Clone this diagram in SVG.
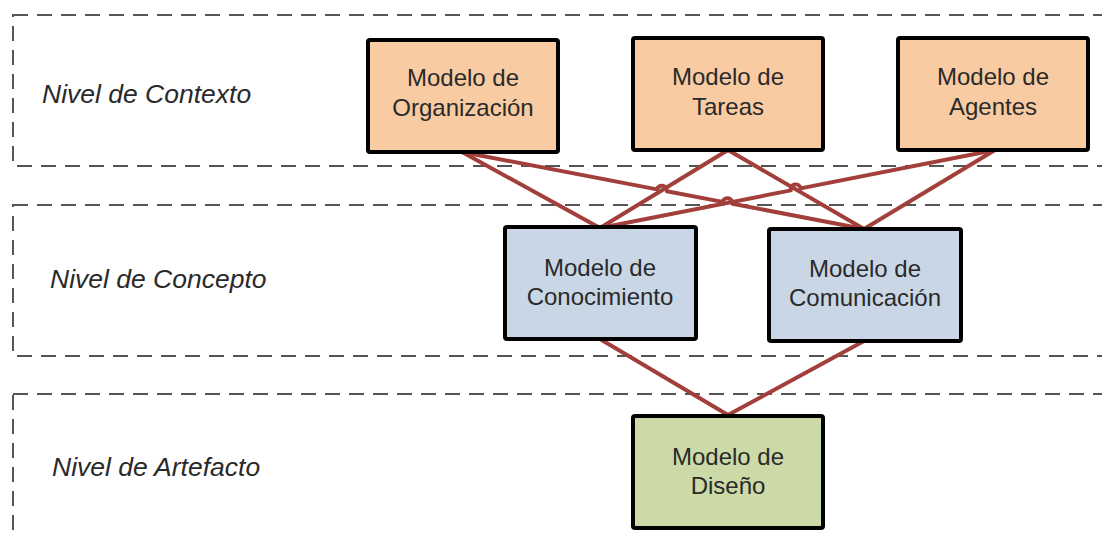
<svg xmlns="http://www.w3.org/2000/svg" width="1102" height="538" viewBox="0 0 1102 538">
  <style>
    .band { fill: none; stroke: #555; stroke-width: 2; stroke-dasharray: 15 9; }
    .level { font-family: "Liberation Sans", Arial, sans-serif; font-style: italic; font-size: 26.5px; fill: #2a2a2a; }
    .box { stroke: #000; stroke-width: 4; }
    .ctx { fill: #f9cba2; }
    .cpt { fill: #c9d6e6; }
    .art { fill: #cbdaa6; }
    .label { font-family: "Liberation Sans", Arial, sans-serif; font-size: 24px; fill: #2a2a2a; text-anchor: middle; }
    .link { fill: none; stroke: #a23f3a; stroke-width: 4; stroke-linejoin: round; }
  </style>

  <!-- level bands (open on the right side) -->
  <g id="bands">
    <rect class="band" x="13" y="15" width="1110" height="151"/>
    <rect class="band" x="13" y="205" width="1110" height="151"/>
    <rect class="band" x="13" y="394" width="1110" height="170"/>
    <text class="level" x="42" y="103">Nivel de Contexto</text>
    <text class="level" x="50" y="288">Nivel de Concepto</text>
    <text class="level" x="52" y="476">Nivel de Artefacto</text>
  </g>

  <!-- connectors, with small jumps where lines cross -->
  <g id="connectors">
    <path class="link" d="M462,152 L600,228"/>
    <path class="link" d="M462,152 L657,189.4 A5,5 0 0 1 666.8,191.2 L722.6,201.9 A5,5 0 0 1 732.4,203.7 L864,229"/>
    <path class="link" d="M728,150 L600,228"/>
    <path class="link" d="M728,150 L864,229"/>
    <path class="link" d="M600,228 L790.8,190.4 A5,5 0 0 1 800.6,188.4 L995,150"/>
    <path class="link" d="M995,150 L864,229"/>
    <path class="link" d="M600,339 L728,415"/>
    <path class="link" d="M864,341 L728,415"/>
  </g>

  <g id="modelo-organizacion">
    <rect class="box ctx" x="368" y="40" width="190" height="112" rx="2"/>
    <text class="label" x="463" y="86">Modelo de</text>
    <text class="label" x="463" y="116">Organización</text>
  </g>
  <g id="modelo-tareas">
    <rect class="box ctx" x="633" y="38" width="190" height="112" rx="2"/>
    <text class="label" x="728" y="85">Modelo de</text>
    <text class="label" x="728" y="115">Tareas</text>
  </g>
  <g id="modelo-agentes">
    <rect class="box ctx" x="898" y="38" width="190" height="112" rx="2"/>
    <text class="label" x="993" y="85">Modelo de</text>
    <text class="label" x="993" y="115">Agentes</text>
  </g>
  <g id="modelo-conocimiento">
    <rect class="box cpt" x="505" y="227" width="191" height="112" rx="2"/>
    <text class="label" x="600" y="276">Modelo de</text>
    <text class="label" x="600" y="305">Conocimiento</text>
  </g>
  <g id="modelo-comunicacion">
    <rect class="box cpt" x="769" y="229" width="192" height="112" rx="2"/>
    <text class="label" x="865" y="277">Modelo de</text>
    <text class="label" x="865" y="306">Comunicación</text>
  </g>
  <g id="modelo-diseno">
    <rect class="box art" x="633" y="416" width="190" height="112" rx="2"/>
    <text class="label" x="728" y="465">Modelo de</text>
    <text class="label" x="728" y="494">Diseño</text>
  </g>
</svg>
